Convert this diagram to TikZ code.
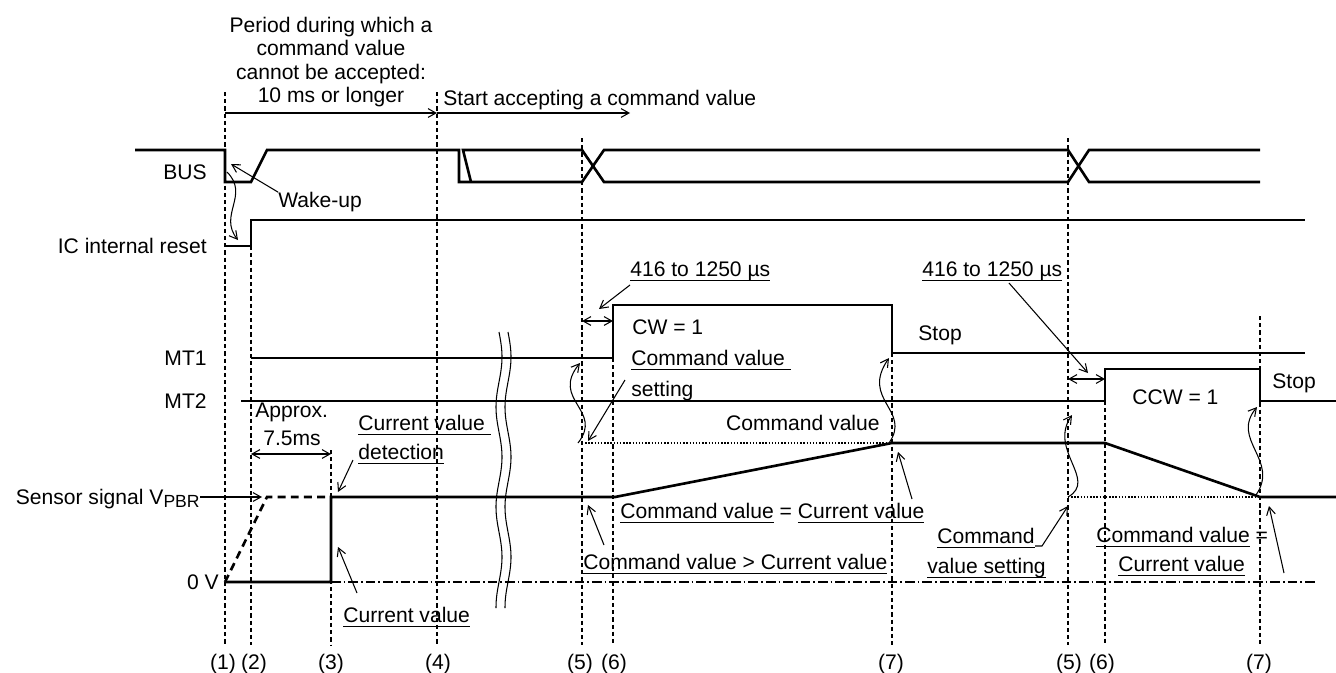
\documentclass[tikz,border=0pt]{standalone}
\usepackage{fontspec}
\setmainfont{Liberation Sans}
\usetikzlibrary{positioning}
\usetikzlibrary{calc}
\usetikzlibrary{arrows.meta}

\newcommand{\undl}[1]{\sbox0{#1}\rlap{\rule[-2.6pt]{\wd0}{0.9pt}}\usebox0}

\begin{document}
\begin{tikzpicture}[x=0.02cm, y=-0.02cm,
    font=\fontsize{12}{14}\selectfont,
    >={Straight Barb[length=4.5pt, width=5pt]},
    lbl/.style={inner sep=0pt, text height=8.6pt, text depth=0pt},
    sig/.style={line width=1.5pt},
    tline/.style={line width=0.6pt, dash pattern=on 2.4pt off 1.7pt},
    lead/.style={line width=0.6pt, ->}]
    \useasboundingbox (0,0) rectangle (1336,673);

    % time marks
    \foreach \x/\ya in {225/92, 251/246, 331/450, 437/92, 582/138, 613/358, 892/353, 1068/138, 1105/401, 1260/316}
        \draw[tline] (\x,\ya) -- (\x,645);
    \foreach \x/\n [count=\k] in {223/1, 254/2, 331/3, 438/4, 580/5, 614/6, 891/7, 1069/5, 1102/6, 1259/7}
        \node[lbl] (tick\k) at (\x,662) {(\n)};

    % period text
    \foreach \ln [count=\k] in {Period during which a, command value, cannot be accepted:, 10 ms or longer}
        \node[lbl] (per\k) at (331,{1.7+23.3*\k}) {\ln};
    \node[lbl, anchor=west] (start) at (443,98) {Start accepting a command value};
    \coordinate (pa) at (225,113);
    \coordinate (pb) at (437,113);
    \coordinate (pc) at (630,113);
    \draw[lead] (pa) -- (pb);
    \draw[lead] (pb) -- (pc);

    % signal names
    \node[lbl, anchor=east] (bus) at (207,172) {BUS};
    \node[lbl, anchor=east] (icr) at (207,246) {IC internal reset};
    \node[lbl, anchor=east] (mt1) at (207,358) {MT1};
    \node[lbl, anchor=east] (mt2) at (207,401) {MT2};
    \node[lbl, anchor=east] (sens) at (200,497) {Sensor signal V\raisebox{-1.5pt}{\fontsize{10}{12}\selectfont PBR}};
    \node[lbl, anchor=east] (zero) at (219,582) {0 V};

    % waveforms
    \draw[sig] (135,150) -- (225,150) -- (225,182) -- (251,182) -- (267,150) -- (459,150) -- (459,182)
        -- (582,182) -- (604,150) -- (1068,150) -- (1089,182) -- (1260,182);
    \draw[sig] (471,182) -- (463,150) -- (582,150) -- (604,182) -- (1068,182) -- (1089,150) -- (1260,150);
    \draw[sig] (225,246) -- (251,246) -- (251,220) -- (1305,220);
    \draw[sig] (251,358) -- (613,358) -- (613,305) -- (892,305) -- (892,353) -- (1305,353);
    \draw[sig] (241,401) -- (1105,401) -- (1105,369) -- (1260,369) -- (1260,401) -- (1336,401);
    \draw[sig] (225,582) -- (331,582) -- (331,497) -- (615,497) -- (892,443) -- (1105,443) -- (1260,497) -- (1336,497);
    \draw[sig, dash pattern=on 4.5pt off 3pt] (225,582) -- (267,497) -- (331,497);
    \draw[line width=0.8pt, densely dotted] (582,443) -- (892,443);
    \draw[line width=0.8pt, densely dotted] (1068,497) -- (1260,497);
    \draw[line width=0.6pt, dash pattern=on 5.5pt off 1.7pt on 1pt off 1.7pt] (331,582) -- (1317,582);

    % break
    \foreach \bx in {499,508}
        \draw[line width=0.6pt] plot[domain=332:608, samples=60, smooth, variable=\t] ({\bx+3*sin(3.6*(\t-332))},{\t});

    % wake-up
    \node[lbl, anchor=west] (wake) at (278,200) {Wake-up};
    \coordinate (wk) at (231,164);
    \draw[lead] (wake.north west) -- (wk);
    \coordinate (bl) at (227,172);
    \coordinate (rl) at (238,240);
    \draw[lead] (bl) .. controls (250,195) and (218,215) .. (rl);

    % approx. 7.5 ms
    \node[lbl, anchor=west] (apx) at (255,410) {Approx.};
    \node[lbl] (apx2) at (292,438) {7.5ms};
    \coordinate (a2) at (251,454);
    \coordinate (a3) at (331,454);
    \draw[<->, line width=0.6pt] (a2) -- (a3);

    \node[lbl, anchor=west] (cvd) at (358,423) {\undl{Current value\ }};
    \node[lbl, anchor=west] (cvd2) at (358,452) {\undl{detection}};
    \coordinate (cvdp) at (338,492);
    \draw[lead] (353,460) -- (cvdp);
    \node[lbl, anchor=west] (cv) at (343,615) {\undl{Current value}};
    \coordinate (cvp) at (338,547);
    \draw[lead] (357,593) -- (cvp);
    \coordinate (sp) at (262,497);
    \draw[lead] (sens.east) -- (sp);

    % first command
    \node[lbl, anchor=west] (dly1) at (630,269) {\undl{416 to 1250 µs}};
    \coordinate (d1) at (599,309);
    \draw[lead] (630,285) -- (d1);
    \coordinate (d1a) at (582,321);
    \coordinate (d1b) at (613,321);
    \draw[<->, line width=0.6pt] (d1a) -- (d1b);
    \node[lbl, anchor=west] (cw) at (632,327) {CW = 1};
    \node[lbl, anchor=west] (cvs) at (631,358) {\undl{Command value\ }};
    \node[lbl, anchor=west] (cvs2) at (631,389) {\undl{setting}};
    \coordinate (s5) at (588,441);
    \draw[lead] (625,380) -- (s5);
    \coordinate (w5) at (580,363);
    \draw[lead] (578,443) .. controls (604,410) and (550,400) .. (w5);
    \node[lbl, anchor=east] (cmd) at (880,423) {Command value};
    \coordinate (w7) at (889,358);
    \draw[lead] (889,443) .. controls (912,410) and (860,400) .. (w7);
    \node[lbl, anchor=west] (stop1) at (918,333) {Stop};
    \node[lbl, anchor=west] (eq1) at (620,511) {\undl{Command value} = \undl{Current value}};
    \coordinate (e1) at (898,452);
    \draw[lead] (912,499) -- (e1);
    \node[lbl, anchor=west] (gt) at (583,562) {\undl{Command value > Current value}};
    \coordinate (g1) at (588,505);
    \draw[lead] (604,545) -- (g1);

    % second command
    \node[lbl, anchor=west] (dly2) at (922,269) {\undl{416 to 1250 µs}};
    \coordinate (d2) at (1088,373);
    \draw[lead] (1009,283) -- (d2);
    \coordinate (d2a) at (1068,379);
    \coordinate (d2b) at (1105,379);
    \draw[<->, line width=0.6pt] (d2a) -- (d2b);
    \node[lbl, anchor=west] (ccw) at (1132,397) {CCW = 1};
    \node[lbl, anchor=west] (stop2) at (1272,381) {Stop};
    \node[lbl, anchor=west] (cvs3) at (937,536) {\undl{Command}};
    \node[lbl, anchor=west] (cvs4) at (927,566) {\undl{value setting}};
    \coordinate (s6) at (1068,506);
    \draw[lead] (1035,546) -- (1042,546) -- (s6);
    \coordinate (w8) at (1072,415);
    \draw[lead] (1068,497) .. controls (1098,480) and (1048,450) .. (w8);
    \coordinate (w9) at (1257,407);
    \draw[lead] (1256,495) .. controls (1280,460) and (1230,440) .. (w9);
    \node[lbl, anchor=west] (eq2) at (1096,535) {\undl{Command value} =};
    \node[lbl, anchor=west] (eq3) at (1118,564) {\undl{Current value}};
    \coordinate (e2) at (1269,506);
    \draw[lead] (1284,573) -- (e2);
\end{tikzpicture}
\end{document}
